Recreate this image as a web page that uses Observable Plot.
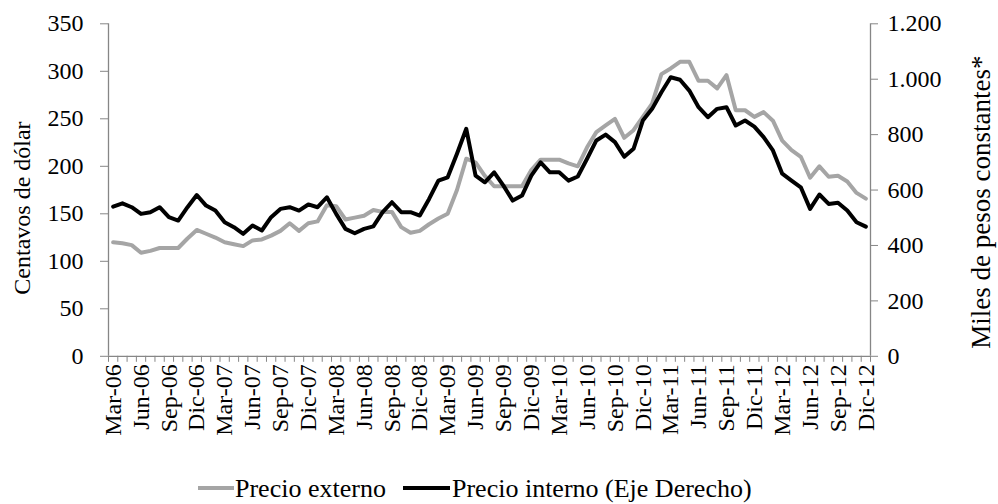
<!DOCTYPE html>
<html><head><meta charset="utf-8">
<script src="https://cdn.jsdelivr.net/npm/d3@7"></script>
<script src="https://cdn.jsdelivr.net/npm/@observablehq/plot@0.6"></script>
<style>
body{margin:0;background:#fff;width:998px;height:504px;overflow:hidden;position:relative;font-family:"Liberation Serif",serif;}
#chart{position:absolute;left:0;top:0;}
.lg{position:absolute;font-size:26px;line-height:26px;color:#000;white-space:nowrap;}
.sw{position:absolute;height:4px;}
</style></head><body>
<div id="chart"></div>
<div class="sw" style="left:198px;top:486px;width:36px;background:#a5a5a5"></div>
<div class="lg" style="left:235px;top:476px">Precio externo</div>
<div class="sw" style="left:403px;top:486px;width:47px;background:#000"></div>
<div class="lg" style="left:452px;top:476px">Precio interno (Eje Derecho)</div>
<script>
const tickLabels = ["Mar-06","Jun-06","Sep-06","Dic-06","Mar-07","Jun-07","Sep-07","Dic-07",
  "Mar-08","Jun-08","Sep-08","Dic-08","Mar-09","Jun-09","Sep-09","Dic-09",
  "Mar-10","Jun-10","Sep-10","Dic-10","Mar-11","Jun-11","Sep-11","Dic-11",
  "Mar-12","Jun-12","Sep-12","Dic-12"];
const precioExterno = [120,119,117,109,111,114,114,114,124,133,
  129,125,120,118,116,122,123,127,132,140,
  132,140,142,159,158,144,146,148,154,152,
  152,136,130,132,139,145,150,175,208,204,
  190,179,179,179,179,196,207,207,207,203,
  200,220,236,243,250,230,238,252,266,297,
  303,310,310,290,290,282,296,259,259,252,
  257,248,227,217,210,188,200,189,190,184,
  172,166];
const precioInterno = [540,552,538,514,520,538,502,490,538,582,
  544,526,484,466,442,472,454,502,532,538,
  526,548,538,574,514,460,444,460,469,520,
  556,520,520,508,568,634,646,731,821,652,
  628,664,616,562,580,652,700,664,664,634,
  649,713,779,800,773,720,749,851,893,953,
  1007,998,959,899,863,893,899,833,851,829,
  791,743,659,634,610,532,584,550,554,526,
  484,468];
const leftTicks = [0,50,100,150,200,250,300,350];
const rightTicks = [0,200,400,600,800,1000,1200];

const RATIO = 350/1200;
const n = precioExterno.length;
const ext = precioExterno.map((v,i)=>({x:i+0.5, v}));
const intl = precioInterno.map((v,i)=>({x:i+0.5, v}));
const fmt = d3.formatLocale({decimal:",",thousands:".",grouping:[3],currency:["$",""]}).format(",.0f");
const H = 466;
const AX = "#868686";
const plot = Plot.plot({
  width: 998, height: H,
  marginLeft: 108, marginRight: 128, marginTop: 23.3, marginBottom: H - 355.8,
  style: {fontFamily: '"Liberation Serif", serif', fontSize: "24px", color: "#000", background: "#fff", overflow: "visible"},
  x: {domain: [0, n], label: null},
  y: {domain: [0, 350], label: null},
  marks: [
    Plot.axisX({ticks: d3.range(0, n + 1), tickSize: 6, tickFormat: () => "", stroke: AX, label: null}),
    Plot.axisX({ticks: tickLabels.map((_, k) => 3*k + 0.5), tickSize: 0, tickPadding: 8, tickRotate: -90,
      tickFormat: d => tickLabels[Math.round((d - 0.5)/3)], fill: "#000", label: null}),
    Plot.axisY({anchor: "left", ticks: leftTicks, tickSize: 8, tickPadding: 17, stroke: AX, fill: "#000", label: null}),
    Plot.axisY({anchor: "right", ticks: rightTicks.map(v => v*RATIO), tickSize: 7, tickPadding: 10,
      tickFormat: d => fmt(Math.round(d/RATIO)), stroke: AX, fill: "#000", label: null}),
    Plot.ruleX([0, n], {stroke: AX, strokeWidth: 1.3}),
    Plot.ruleY([0], {stroke: AX, strokeWidth: 1.3}),
    Plot.line(ext, {x: "x", y: "v", stroke: "#a5a5a5", strokeWidth: 4}),
    Plot.line(intl, {x: "x", y: d => d.v*RATIO, stroke: "#000", strokeWidth: 4}),
    Plot.text(["Centavos de dólar"], {text: d => d, frameAnchor: "left", textAnchor: "middle", lineAnchor: "middle",
      dx: -86, dy: 18, rotate: -90, fill: "#000", fontSize: 24}),
    Plot.text(["Miles de pesos constantes*"], {text: d => d, frameAnchor: "right", textAnchor: "middle", lineAnchor: "middle",
      dx: 111, dy: 12, rotate: -90, fill: "#000", fontSize: 27})
  ]
});
document.getElementById("chart").appendChild(plot);
</script>
</body></html>
